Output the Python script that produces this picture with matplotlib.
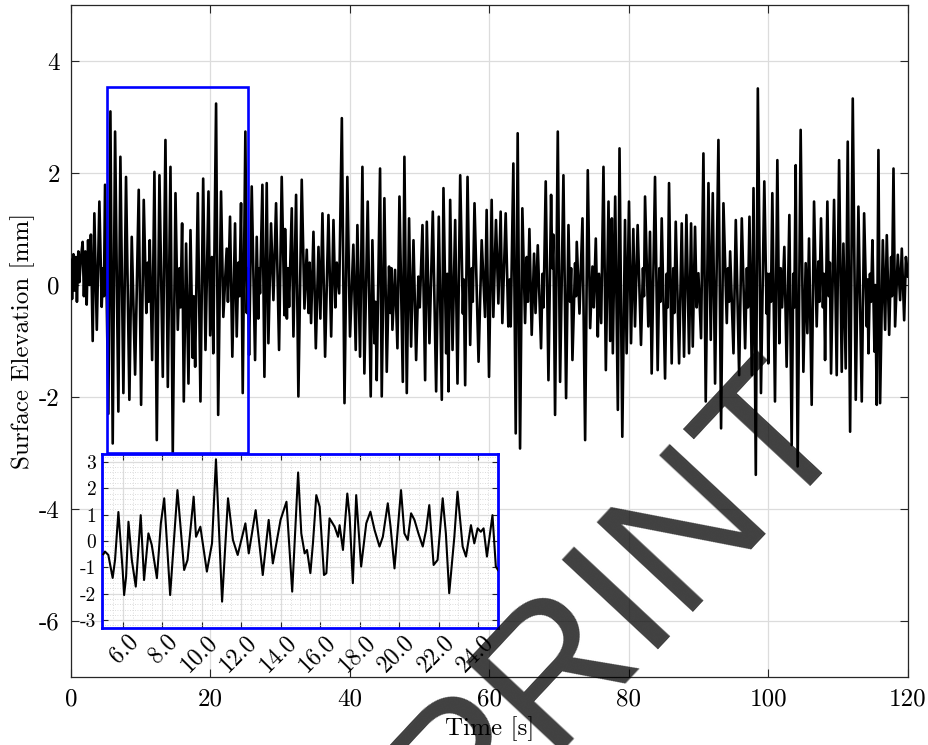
import numpy as np
import matplotlib
matplotlib.use("Agg")
import matplotlib.pyplot as plt
from matplotlib.patches import Rectangle
from matplotlib.ticker import MultipleLocator, FormatStrFormatter
from matplotlib.transforms import ScaledTranslation

plt.rcParams['font.family'] = 'cmr10'
plt.rcParams['axes.unicode_minus'] = False
plt.rcParams['mathtext.fontset'] = 'cm'

# main record in 20 s pieces (time [s], elevation [mm])
t_a = [0.0, 0.15, 0.35, 0.5, 0.7, 0.85, 1.05, 1.2, 1.4, 1.67, 1.85, 2.05, 2.25, 2.45, 2.65, 2.85, 3.11, 3.35, 3.7, 4.07,
       4.4, 4.6, 4.72, 4.88, 5.36, 5.65, 5.98, 6.32, 6.79, 7.08, 7.51, 7.89, 8.37, 8.71, 9.19, 9.71, 10.05, 10.43, 10.8, 11.0,
       11.12, 11.29, 11.63, 11.96, 12.3, 12.68, 13.16, 13.54, 13.88, 14.26, 14.59, 14.98, 15.31, 15.55, 15.7, 15.93, 16.17,
       16.5, 16.84, 17.13, 17.45, 17.6, 17.8, 18.18, 18.56, 18.95, 19.28, 19.71]
eta_a = [0.45, -0.25, 0.55, -0.1, 0.5, -0.3, 0.6, 0.05, 0.45, 0.77, -0.2, 0.6, -0.35, 0.8, 0.0, 0.9, -1.0, 1.28, -0.8, 1.49,
         -0.39, 0.3, -0.2, 1.79, -2.3, 3.1, -2.83, 2.74, -2.26, 2.29, -1.93, 1.93, -2.05, 0.86, -1.6, 1.7, -2.14, 1.52, -0.5, 0.4,
         -0.3, 0.8, -1.34, 2.02, -2.77, 1.96, -1.64, 2.59, -1.82, 2.11, -3.0, 1.64, -0.8, 0.3, -0.4, 1.1, -2.08,
         0.74, -1.76, 0.98, -1.3, -0.2, -1.46, 1.64, -2.08, 1.9, -1.16, 1.67]

t_b = [19.95, 20.2, 20.4, 20.8, 21.1, 21.51, 21.84, 22.32, 22.5, 22.8, 23.13, 23.52, 23.76, 24.0, 24.15, 24.38, 24.62, 25.0,
       25.2, 25.35, 25.53, 25.91, 26.39, 26.63, 26.85, 26.97, 27.1, 27.44, 27.73, 28.06, 28.3, 28.68, 29.02, 29.4, 29.83, 30.21,
       30.6, 30.69, 30.95, 31.1, 31.27, 31.65, 31.89, 32.27, 32.6, 33.08, 33.47, 33.8, 34.05, 34.2, 34.42, 34.76, 35.1, 35.48,
       35.75, 36.05, 36.43, 36.91, 37.3, 37.63, 37.9, 38.11, 38.45, 38.83, 39.21]
eta_b = [-0.9, 0.5, -1.22, 3.24, -2.32, 1.67, -0.57, 0.65, -0.3, 1.22, -1.28, 1.1, -0.92, 0.4, -0.2, 1.46, -1.93, 2.74,
         -0.5, 0.3, -1.25, 1.76, -1.34, 0.86, -0.6, 0.3, -0.15, 1.79, -1.64, 1.82, -1.04, 1.1, -0.27, 1.46, -1.16, 1.93,
         -0.54, 1.0, -0.6, 0.3, -0.39, 1.37, -0.92, 1.61, -1.99, 1.88, -0.42, 0.63, -0.5, 0.4, -0.68, 0.95, -1.13, 0.68,
         -0.6, 1.28, -1.28, 1.25, -0.92, 1.16, -0.4, 0.4, -0.15, 2.98, -2.11]

t_c = [39.62, 40.0, 40.48, 40.82, 41.06, 41.44, 41.78, 42.06, 42.54, 42.97, 43.21, 43.5, 43.66, 43.83, 44.31, 44.55, 44.93,
       45.27, 45.6, 45.8, 45.95, 46.08, 46.46, 46.8, 47.09, 47.57, 47.8, 48.14, 48.47, 48.76, 49.1, 49.48, 49.81, 50.0, 50.39,
       50.77, 51.01, 51.39, 51.87, 52.35, 52.73, 53.16, 53.4, 53.79, 53.95, 54.12, 54.36, 54.7, 55.08, 55.41, 55.8, 56.18,
       56.3, 56.51, 56.85, 57.23, 57.45, 57.6, 57.85, 58.43]
eta_c = [1.93, -0.92, 0.72, -1.16, 1.07, -1.28, 2.11, -1.58, 1.49, -1.99, 0.8, -1.04, -0.3, -1.7, 2.08, -1.99, 1.55,
         -1.55, 0.33, -0.5, 0.3, -0.8, 0.27, -1.13, 1.58, -1.73, 2.29, -1.93, 1.19, -1.1, 0.8, -1.34, 0.15, -0.4, 1.07,
         -1.7, 1.13, -1.04, 1.31, -1.9, 1.22, -2.05, 1.73, -1.22, 0.2, -1.9, 1.52, -1.16, 1.16, -1.76, 1.96, -0.51,
         0.1, -1.79, 1.93, -1.07, 0.3, -0.3, 1.46, -1.37]

t_d = [58.88, 59.36, 59.59, 59.93, 60.31, 60.55, 60.93, 61.27, 61.6, 61.84, 62.32, 62.7, 62.9, 63.04, 63.42, 63.76, 64.04,
       64.38, 64.71, 65.1, 65.34, 65.5, 65.72, 66.05, 66.39, 66.6, 66.92, 67.39, 67.6, 67.75, 68.06, 68.45, 68.83, 69.0,
       69.15, 69.4, 69.79, 70.12, 70.6, 70.98, 71.32, 71.55, 71.7, 71.89, 72.27, 72.4, 72.51, 72.9, 73.33, 73.71, 74.09,
       74.43, 74.76, 74.95, 75.24, 75.53, 75.7, 76.01, 76.34, 76.68, 77.06, 77.3, 77.54, 77.68, 78.02, 78.4, 78.64]
eta_d = [0.8, -0.57, 1.34, -1.64, 1.52, -0.57, 1.16, -0.33, 1.31, -0.68, 1.28, -0.74, 0.1, -0.74, 2.17, -2.65, 2.71,
         -2.92, 1.37, -0.68, 0.5, -0.3, 1.0, -0.89, 0.56, -0.5, 0.71, -1.13, 0.2, -0.4, 1.85, -1.7, 1.61, 0.3,
         0.9, -2.32, 2.74, -1.73, 1.96, -2.02, 1.07, -0.3, 0.3, -1.34, 0.39, -0.2, 0.77, -0.51, 1.19, -2.77, 2.05,
         -0.77, 0.33, -0.4, 0.83, -0.92, 0.2, -0.68, 2.11, -1.52, 1.49, -1.0, 1.19, -1.22, 1.58, -2.23, 2.44]

t_e = [79.04, 79.43, 79.66, 80.0, 80.29, 80.62, 80.86, 81.24, 81.72, 82.0, 82.15, 82.3, 82.77, 83.01, 83.25, 83.73, 84.11,
       84.35, 84.5, 84.69, 85.17, 85.4, 85.55, 85.74, 86.12, 86.35, 86.5, 86.7, 87.18, 87.56, 87.89, 88.23, 88.61, 88.9,
       89.14, 89.47, 89.7, 89.95, 90.33, 90.67, 91.0, 91.39, 91.72, 92.01, 92.34, 92.82, 93.2, 93.54, 94.02, 94.2, 94.35,
       94.5, 94.98, 95.31, 95.79, 96.17, 96.65, 96.9, 97.05, 97.27, 97.61, 97.85, 98.18, 98.47]
eta_e = [-2.71, 1.16, -1.22, 1.49, -1.04, 1.0, -0.74, 1.07, -1.07, 0.3, -0.2, 1.58, -0.74, 0.95, -1.58, 1.93, -1.52,
         0.3, -0.3, 1.19, -1.67, 0.2, -0.4, 1.82, -1.4, 0.3, -0.5, 1.13, -1.4, 1.1, -1.28, 1.25, -1.22, 1.1,
         -1.1, 1.04, -0.4, 0.21, -0.95, 2.35, -2.08, 1.82, -0.98, 1.64, -1.76, 2.59, -2.56, 1.46, -0.68, 0.3, -0.3,
         0.6, -1.22, 1.16, -1.61, 1.19, -1.13, 0.3, -0.4, 1.22, -1.61, 1.73, -3.39, 3.51]

t_f = [98.92, 99.4, 99.73, 99.85, 99.97, 100.2, 100.35, 100.55, 100.93, 101.27, 101.55, 101.75, 101.95, 102.27, 102.6,
       102.99, 103.32, 103.55, 103.7, 103.9, 104.18, 104.61, 105.0, 105.33, 105.57, 105.81, 106.19, 106.53, 106.91, 107.15,
       107.3, 107.53, 107.8, 107.95, 108.11, 108.44, 108.65, 108.8, 108.97, 109.4, 109.78, 110.12, 110.5, 110.74, 111.07,
       111.36, 111.7, 112.08, 112.51, 112.89, 113.37, 113.71, 114.09, 114.2, 114.33, 114.55, 114.7, 114.9, 115.19, 115.3,
       115.52, 115.76, 116.0, 116.39, 116.72, 116.96, 117.3, 117.58, 117.7, 117.92, 118.15, 118.54, 118.87, 119.11, 119.45,
       119.7, 120.0]
eta_f = [-1.93, 1.85, -0.51, 0.2, -1.4, 0.2, -0.3, 1.64, -2.08, 2.23, -1.04, 0.3, -0.4, 0.68, -1.46,
         1.25, -2.86, 0.2, -0.4, 2.14, -3.24, 2.77, -1.55, 0.39, -0.86, 0.83, -2.14, 1.49, -0.74, 0.42,
         -0.3, 1.19, -0.4, 0.2, -1.34, 1.49, -0.2, 0.4, -1.58, 1.52, -1.61, 2.23, -1.55, 0.74, -1.49,
         2.56, -2.62, 3.33, -2.05, 1.4, -2.08, 1.28, -0.74, 0.1, -1.22, 0.2, -0.3, 0.8, -1.19, 0.0,
         -2.14, 2.41, -2.11, 0.8, -0.8, 0.89, -0.89, 0.5, -0.2, 2.08, -0.74, 0.54, -0.27, 0.65, -0.63,
         0.5, 0.15]

# zoomed record shown in the inset
t_zoom = [5.02, 5.10, 5.27, 5.49, 5.61, 5.78, 6.0, 6.07, 6.17, 6.29, 6.46, 6.66, 6.91, 7.08, 7.30, 7.47, 7.73, 7.93,
          8.10, 8.40, 8.77, 9.11, 9.28, 9.59, 9.71, 9.93, 10.26, 10.52, 10.72, 11.03, 11.33, 11.58, 11.82, 12.21, 12.38,
          12.73, 13.09, 13.39, 13.60, 13.99, 14.29, 14.58, 14.88, 15.04, 15.21, 15.33, 15.50, 15.63, 15.80, 15.97, 16.19,
          16.31, 16.47, 16.73, 16.90, 16.98, 17.15, 17.37, 17.49, 17.65, 17.82, 18.07, 18.33, 18.54, 18.75, 19.00, 19.17,
          19.42, 19.56, 19.76, 20.09, 20.26, 20.43, 20.60, 20.77, 20.97, 21.19, 21.36, 21.52, 21.74, 21.94, 22.20, 22.36,
          22.53, 22.79, 22.95, 23.21, 23.38, 23.63, 23.80, 23.97, 24.13, 24.27, 24.44, 24.72, 24.89, 25.0]
eta_zoom = [-0.5, -0.4, -0.53, -1.4, -0.72, 1.1, -1.16, -2.05, -1.35, 0.73, -0.72, -1.73, 0.98, -1.48, 0.29, -0.15,
            -1.41, 0.67, 1.62, -2.05, 1.93, -1.1, -0.72, 1.68, 0.16, 0.54, -1.16, -0.09, 3.1, -2.3, 1.62, 0.04, -0.53,
            0.67, -0.47, 1.17, -1.29, 0.8, -0.85, 0.8, 1.49, -1.92, 2.6, 0.29, -0.47, -0.34, -1.22, -0.09, 1.74, 1.3,
            -1.29, -1.22, 0.86, 0.54, 0.16, 0.6, -0.34, 1.8, 0.92, -1.6, 1.74, -0.97, 0.67, 1.11, 0.42, -0.21, 0.16,
            1.43, 0.54, -1.04, 1.93, 0.29, 0.04, 1.05, 0.8, 0.29, -0.21, 0.42, 1.36, -0.91, -0.72, 1.62, 0.29, -1.98,
            0.16, 1.87, -0.21, -0.59, 0.6, -0.09, 0.48, 0.35, 0.48, -0.59, 0.98, -0.97, -1.1]

t_main = np.array(t_a + t_b + t_c + t_d + t_e + t_f)
eta_main = np.array(eta_a + eta_b + eta_c + eta_d + eta_e + eta_f)

# zoom window drawn on the main axes
box_t = [5.2, 25.35]
box_eta = [-3.0, 3.54]

axcol = '#262626'
gridcol = '#dcdcdc'

fig = plt.figure(figsize=(9.29, 7.45), dpi=100)
ax = fig.add_axes([71/929, 68/745, 837/929, 672/745])
ax.plot(t_main, eta_main, color='k', lw=1.9, zorder=3)
ax.set_xlim(0, 120)
ax.set_ylim(-7, 5)
ax.set_xticks(np.arange(0, 121, 20))
ax.set_yticks(np.arange(-6, 5, 2))
ax.grid(True, color=gridcol, lw=0.9)
ax.set_axisbelow(True)
ax.tick_params(direction='in', length=6, width=0.8, colors=axcol, labelcolor='k',
               labelsize=18, top=True, right=True, pad=8)
for s in ax.spines.values():
    s.set_color(axcol)
    s.set_linewidth(0.9)
ax.set_xlabel('Time [s]', fontsize=18, labelpad=4)
ax.set_ylabel('Surface Elevation [mm]', fontsize=18, labelpad=3)

ax.add_patch(Rectangle((box_t[0], box_eta[0]), box_t[1] - box_t[0], box_eta[1] - box_eta[0],
                       fill=False, edgecolor='#0000ff', lw=1.9, zorder=4))

# inset
ins = fig.add_axes([102/929, 117/745, 396/929, 174/745])
ins.set_facecolor('white')
ins.plot(t_zoom, eta_zoom, color='k', lw=1.5, zorder=3)
ins.set_xlim(4.95, 25.0)
ins.set_ylim(-3.3, 3.3)
ins.set_xticks(np.arange(6, 25, 2))
ins.set_yticks(np.arange(-3, 4, 1))
ins.xaxis.set_minor_locator(MultipleLocator(0.5))
ins.yaxis.set_minor_locator(MultipleLocator(0.2))
ins.xaxis.set_major_formatter(FormatStrFormatter('%.1f'))
ins.grid(True, which='major', color=gridcol, lw=0.9)
ins.grid(True, which='minor', color='#d0d0d0', lw=0.6, ls=(0, (1, 2)))
ins.set_axisbelow(True)
ins.tick_params(which='both', direction='in', colors=axcol, labelcolor='k', top=True, right=True)
ins.tick_params(which='major', length=4)
ins.tick_params(which='minor', length=0)
ins.tick_params(axis='y', labelsize=14, pad=4)
ins.tick_params(axis='x', labelsize=17, pad=4)
shift = ScaledTranslation(4/100, 3/100, fig.dpi_scale_trans)
for lab in ins.get_xticklabels():
    lab.set_rotation(45)
    lab.set_ha('right')
    lab.set_va('top')
    lab.set_rotation_mode('anchor')
    lab.set_transform(lab.get_transform() + shift)
for s in ins.spines.values():
    s.set_color('#0000ff')
    s.set_linewidth(2.0)

# watermark
fig.text(656/929, 1 - 634/745, 'PRINT', fontsize=138, family='Liberation Sans',
         rotation=47, rotation_mode='anchor', ha='center', va='baseline',
         color='k', alpha=0.75, zorder=10)

fig.savefig('out.png', dpi=100)
